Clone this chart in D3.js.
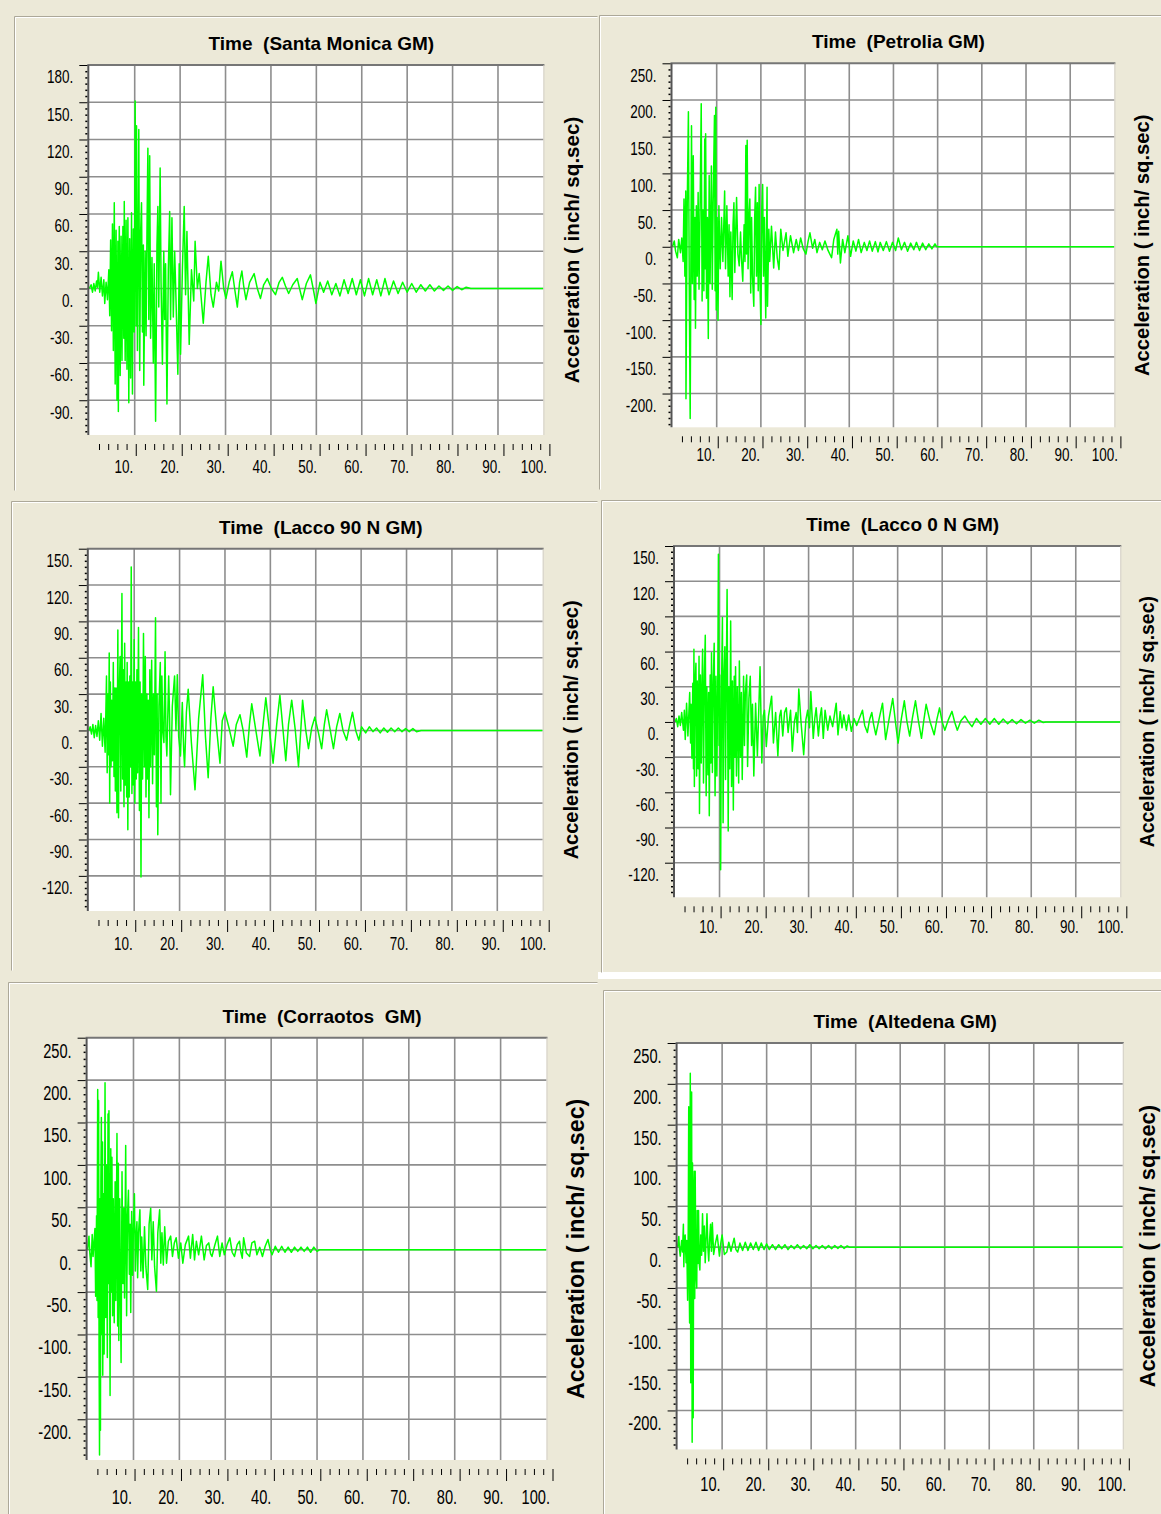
<!DOCTYPE html>
<html>
<head>
<meta charset="utf-8">
<script src="https://cdn.jsdelivr.net/npm/d3@7"></script>
<style>
body { margin: 0; background: #ece9d8; }
svg { display: block; }
text { font-family: "Liberation Sans", Arial, sans-serif; }
</style>
</head>
<body>
<script>

//=========================== data ============================================

// [time (sec), acceleration (inch/sq.sec)]
var santaMonicaAccel = [[0,0],[0.4,3],[0.7,-3],[1.0,4],[1.3,-2],[1.6,6],[1.8,1],[2.0,13],[2.3,-3],[2.6,9],[2.9,-6],[3.2,7],[3.4,-12],[3.7,5],[4.0,-9],[4.3,15],[4.5,-22],[4.7,39],[4.9,-34],[5.1,52],[5.3,-50],[5.5,69],[5.7,-77],[5.9,47],[6.1,-90],[6.3,38],[6.4,-99],[6.6,50],[6.8,-70],[7.0,42],[7.2,-58],[7.4,50],[7.6,-40],[7.7,70],[7.9,-58],[8.1,55],[8.3,-65],[8.5,57],[8.7,-92],[8.9,40],[9.1,-72],[9.3,61],[9.5,-85],[9.7,48],[9.9,-35],[10.1,151],[10.3,-30],[10.4,131],[10.6,-50],[10.8,55],[10.9,128],[11.1,-66],[11.3,45],[11.5,69],[11.7,-35],[11.9,35],[12.0,-78],[12.3,30],[12.5,-38],[12.7,45],[12.9,113],[13.1,-25],[13.3,107],[13.5,-40],[13.8,25],[14.1,-60],[14.3,20],[14.6,-107],[14.9,35],[15.1,66],[15.3,-15],[15.6,97],[15.8,5],[16.1,-61],[16.4,30],[16.6,-25],[16.8,20],[17.1,-93],[17.4,15],[17.7,62],[17.9,-25],[18.2,57],[18.5,-23],[18.8,30],[19.1,-10],[19.5,-69],[19.8,20],[20.1,-53],[20.5,15],[20.9,66],[21.2,-5],[21.5,46],[22.0,-45],[22.5,15],[23.0,-10],[23.3,38],[23.8,0],[24.2,12],[25.1,-28],[25.7,5],[26.2,26],[26.8,-5],[27.3,-15],[28.0,5],[28.5,-2],[29.0,22],[29.6,0],[30.1,-8],[30.8,5],[31.5,13.5],[32.0,0],[32.6,-15],[33.1,5],[33.6,14],[34.0,2],[34.5,-9],[35.3,5],[36.3,12],[37.0,0],[37.7,-8],[38.4,3],[39.2,8],[40.1,0],[41.0,-5],[41.8,5],[42.5,9],[43.2,2],[43.9,-4],[44.8,3],[45.8,8],[46.3,0],[46.9,-9],[47.8,4],[48.7,11],[49.3,0],[49.9,-12],[50.8,5],[51.6,-3],[52.5,6],[53.4,-5],[54.3,4],[55.2,-6],[56.1,7],[57.0,-4],[57.9,8],[58.8,-5],[59.7,7],[60.6,-6],[61.5,8],[62.4,-5],[63.3,7],[64.2,-6],[65.1,8],[66.0,-5],[67.0,6],[68.0,-4],[69.0,5],[70.0,-3],[71.0,4],[72.0,-3],[73.0,3],[74.0,-2],[75.0,3],[76.0,-2],[77.0,2],[78.0,-1.5],[79.0,2],[80.0,-1.5],[81.0,1.5],[82.0,-1],[83.0,1],[84.0,0],[100,0]];

var petroliaAccel = [[0,0],[0.4,8],[0.7,-6],[1.1,-15],[1.4,10],[1.8,-8],[2.1,12],[2.4,-20],[2.6,65],[2.8,-40],[3.0,76],[3.05,-207],[3.3,40],[3.6,184],[3.8,-60],[4.0,-234],[4.2,30],[4.3,165],[4.5,-50],[4.7,124],[4.9,-72],[5.1,40],[5.2,-111],[5.4,56],[5.6,-40],[5.8,74],[6.0,-58],[6.2,30],[6.5,195],[6.7,-74],[6.9,50],[7.1,-60],[7.3,147],[7.4,-30],[7.5,154],[7.7,-70],[7.9,40],[8.1,-125],[8.3,97],[8.5,-50],[8.8,110],[9.0,-58],[9.2,60],[9.5,179],[9.65,-60],[9.8,190],[9.9,-86],[10.1,40],[10.3,-100],[10.5,56],[10.8,-30],[11.1,40],[11.4,-20],[11.8,76],[12.0,-30],[12.3,56],[12.6,-40],[12.8,30],[13.0,-68],[13.2,20],[13.5,-72],[13.7,30],[13.9,60],[14.1,-35],[14.3,20],[14.5,67],[14.8,-10],[15.1,-26],[15.4,20],[15.6,-15],[15.9,-47],[16.2,30],[16.4,-20],[16.6,138],[16.75,-10],[16.9,145],[17.1,-30],[17.3,40],[17.5,65],[17.7,-63],[17.9,40],[18.1,-40],[18.4,-81],[18.6,40],[18.8,81],[19.0,-40],[19.2,60],[19.4,-60],[19.6,85],[19.8,-50],[20.0,-106],[20.2,50],[20.4,85],[20.6,-40],[20.8,40],[21.1,-97],[21.3,30],[21.4,81],[21.5,-81],[21.8,24],[22.0,-20],[22.4,28],[22.9,-29],[23.3,20],[23.7,-15],[24.1,-31],[24.5,24],[25.0,-5],[25.7,19],[26.1,-13],[26.7,15],[27.4,-8],[28.0,10],[28.5,-5],[29.0,12],[29.6,-3],[30.2,-10],[30.7,8],[31.1,19],[31.7,-2],[32.2,10],[32.7,-8],[33.3,6],[33.9,-4],[34.5,8],[35.2,-5],[36.0,-15],[36.5,10],[37.2,24],[37.4,-10],[37.6,21],[38.0,-22],[38.5,10],[39.0,-8],[39.7,15],[40.3,-13],[40.9,8],[41.5,-6],[42.1,10],[42.7,-8],[43.4,6],[44.0,-5],[44.6,8],[45.2,-6],[45.9,7],[46.5,-7],[47.0,6],[47.7,-5],[48.4,7],[49.1,-6],[49.8,6],[50.5,-5],[51.1,12],[51.8,-4],[52.5,6],[53.2,-6],[53.9,5],[54.6,-4],[55.2,6],[55.9,-5],[56.6,5],[57.3,-4],[58.0,4],[58.7,-3],[59.4,4],[59.8,0],[100,0]];

var lacco90Accel = [[0,0],[0.3,3],[0.6,-3],[0.9,5],[1.2,-6],[1.5,4],[1.8,-5],[2.1,8],[2.4,-8],[2.7,14],[3.0,-13],[3.3,10],[3.6,-18],[3.9,45],[4.05,-35],[4.2,30],[4.35,-20],[4.5,64],[4.6,-60],[4.75,40],[4.9,-30],[5.05,25],[5.2,-25],[5.4,56],[5.55,-38],[5.7,35],[5.85,-50],[6.0,35],[6.2,-68],[6.4,83],[6.55,-72],[6.7,30],[6.9,61],[7.05,-50],[7.3,113],[7.45,-40],[7.6,50],[7.75,-63],[7.9,72],[8.05,-45],[8.2,40],[8.35,-55],[8.45,56],[8.6,-82],[8.75,40],[8.9,-55],[9.05,45],[9.2,-30],[9.35,135],[9.5,-52],[9.65,40],[9.8,-45],[10.0,75],[10.15,-60],[10.3,40],[10.45,-40],[10.6,50],[10.75,-35],[10.95,85],[11.15,-66],[11.3,40],[11.5,-121],[11.65,30],[11.85,-40],[12.05,80],[12.25,-30],[12.45,61],[12.6,-55],[12.8,30],[12.95,-40],[13.1,25],[13.25,-72],[13.45,50],[13.6,-30],[13.85,58],[14.05,-44],[14.25,30],[14.45,-20],[14.7,93],[14.9,-63],[15.05,30],[15.2,-86],[15.45,20],[15.75,56],[15.9,-60],[16.1,45],[16.3,0],[16.55,-10],[16.8,65],[17.0,-5],[17.2,-21],[17.6,45],[17.8,10],[18.0,-53],[18.4,20],[18.9,45],[19.2,0],[19.5,46],[19.8,-5],[20.2,-21],[20.6,23],[20.9,-16],[21.1,-30],[21.5,15],[21.9,34],[22.6,-10],[23.4,-49],[24.2,10],[25.1,46],[25.7,-5],[26.3,-39],[26.9,10],[27.4,36],[28.2,0],[28.9,-27],[29.4,8],[30.0,15],[30.9,2],[31.8,-13],[32.5,5],[33.3,13],[34.0,0],[34.8,-22],[35.4,5],[35.9,22],[36.8,0],[37.7,-21],[38.4,5],[39.0,27],[39.8,0],[40.6,-27],[41.4,5],[42.1,29],[42.8,0],[43.4,-25],[44.0,5],[44.7,25],[45.5,0],[46.2,-30],[46.7,0],[47.1,25],[47.8,0],[48.4,-15],[49.1,2],[49.8,11],[50.6,-2],[51.3,-15],[51.9,5],[52.4,17],[53.2,0],[53.9,-15],[54.6,3],[55.3,14],[56.0,0],[56.8,-8],[57.5,5],[58.1,15],[58.8,0],[59.5,-8],[60.1,3],[61.0,-2],[61.8,3],[62.6,-1],[63.4,2],[64.2,-2],[65.0,2],[65.8,-1.5],[66.6,2],[67.4,-1],[68.2,2],[69.0,-1],[69.8,1.5],[70.6,-1],[71.4,1.5],[72.2,-1],[73.2,0],[100,0]];

var lacco0Accel = [[0,0],[0.3,3],[0.6,-4],[0.9,5],[1.2,-3],[1.5,8],[1.9,-7],[2.1,10],[2.3,-15],[2.6,16],[2.9,-12],[3.3,25],[3.5,-18],[3.6,15],[3.8,-31],[4.0,33],[4.15,-40],[4.25,62],[4.35,-55],[4.5,30],[4.7,50],[4.85,-46],[5.0,35],[5.2,-40],[5.4,56],[5.5,-78],[5.7,40],[5.9,-35],[6.05,30],[6.2,62],[6.4,-52],[6.6,40],[6.8,74],[7.0,-63],[7.15,30],[7.4,-45],[7.55,25],[7.7,-80],[7.9,40],[8.05,-35],[8.2,59],[8.4,-43],[8.6,35],[8.8,67],[9.0,-63],[9.2,39],[9.4,-46],[9.6,30],[9.75,143],[9.9,-20],[10.05,40],[10.25,-126],[10.45,30],[10.65,89],[10.8,-86],[11.0,40],[11.2,64],[11.35,-49],[11.5,30],[11.7,113],[11.95,-93],[12.1,30],[12.3,-40],[12.5,86],[12.7,-55],[12.9,35],[13.1,-75],[13.3,39],[13.45,-30],[13.6,47],[13.8,-46],[14.0,30],[14.3,-52],[14.45,52],[14.7,-30],[14.9,25],[15.1,-49],[15.4,39],[15.6,-20],[15.8,25],[16.1,40],[16.3,-38],[16.6,20],[16.9,39],[17.2,-20],[17.4,15],[17.7,-46],[18.1,16],[18.5,-29],[19.1,47],[19.5,-35],[19.8,5],[20.1,10],[20.5,-21],[21.0,5],[21.7,22],[22.1,-18],[22.6,8],[23.1,-29],[23.5,5],[23.8,10],[24.2,-12],[24.6,8],[25.0,12],[25.4,-9],[25.95,10],[26.35,-25],[26.8,0],[27.2,8],[27.5,-9],[27.8,28],[28.3,0],[28.9,-28],[29.4,2],[29.8,10],[30.2,-5],[30.5,26],[31.05,-14],[31.4,3],[31.7,12],[32.2,-12],[32.6,5],[32.9,12],[33.3,-14],[33.7,10],[34.3,-7],[34.8,5],[35.4,-4],[36.2,16],[36.6,-11],[37.1,9],[37.5,-5],[37.9,6],[38.5,-7],[39.0,6],[39.6,-8],[40.2,3],[40.8,-3],[41.5,4],[42.1,10],[42.6,-3],[43.2,-9],[43.7,2],[44.2,8],[44.6,-2],[45.1,-11],[45.8,2],[46.6,16],[47.3,-15],[48.1,3],[48.9,20],[49.5,0],[50.1,-18],[50.8,2],[51.5,18],[52.1,0],[52.7,-12],[53.3,3],[54.0,18],[54.7,0],[55.35,-14],[55.9,2],[56.4,15],[57.3,0],[58.2,-11],[58.8,2],[59.4,12],[60.0,0],[60.6,-7],[61.4,2],[62.2,9],[62.8,0],[63.4,-7],[64.2,1],[65.1,5],[65.9,0],[66.7,-4],[67.7,3],[68.7,-2],[69.7,3],[70.7,-2],[71.7,3],[72.7,-2],[73.7,2.5],[74.7,-1.5],[75.7,2],[76.7,-1.5],[77.7,2],[78.7,-1],[79.7,1.5],[80.7,-1],[81.7,1.5],[82.7,-0.5],[83.3,0],[100,0]];

var corraotosAccel = [[0,0],[0.3,16],[0.5,-5],[0.75,-20],[1.0,18],[1.2,-8],[1.4,10],[1.6,25],[1.75,-55],[1.95,40],[2.05,-60],[2.2,189],[2.3,-80],[2.4,176],[2.5,-120],[2.6,-242],[2.7,60],[2.8,-213],[2.9,80],[3.0,156],[3.1,-100],[3.25,127],[3.3,-148],[3.45,66],[3.6,-123],[3.8,197],[3.95,-80],[4.1,100],[4.3,-127],[4.45,160],[4.55,-40],[4.65,164],[4.8,-37],[4.9,-172],[5.05,119],[5.2,-50],[5.3,109],[5.45,-78],[5.6,60],[5.8,-86],[6.0,80],[6.15,-60],[6.4,137],[6.55,-90],[6.7,102],[6.8,-107],[7.0,60],[7.15,-50],[7.3,-133],[7.5,92],[7.7,-40],[7.9,49],[8.05,-57],[8.3,123],[8.5,-78],[8.7,40],[8.9,70],[9.1,-29],[9.25,30],[9.4,-74],[9.6,45],[9.8,-30],[10.0,30],[10.2,66],[10.4,-25],[10.6,20],[10.75,33],[10.9,-33],[11.1,20],[11.4,47],[11.6,-25],[11.8,15],[12.1,-33],[12.4,27],[12.7,-20],[13.1,-47],[13.4,30],[13.75,49],[14.0,-12],[14.3,33],[14.6,-20],[15.0,-49],[15.3,20],[15.7,47],[15.95,-16],[16.2,20],[16.5,-18],[16.8,27],[17.2,-16],[17.6,10],[18.1,16],[18.5,-8],[18.9,8],[19.3,14],[19.8,-10],[20.3,8],[20.75,-16],[21.3,6],[22.0,16],[22.4,-10],[22.9,18],[23.3,-12],[23.7,10],[24.2,-6],[24.8,16],[25.4,-12],[25.9,5],[26.4,8],[26.8,-5],[27.1,-8],[27.7,5],[28.3,16],[28.8,-8],[29.3,8],[29.8,-6],[30.4,6],[31.0,14],[31.5,-3],[32.0,-8],[32.6,6],[33.1,10],[33.4,-3],[33.7,-10],[34.0,14],[34.6,-4],[35.3,-8],[35.8,8],[36.4,10],[36.9,-6],[37.5,3],[38.1,-8],[38.7,4],[39.3,12],[39.8,0],[40.2,-6],[40.9,4],[41.6,-3],[42.3,4],[43.0,-3],[43.7,3],[44.4,-3],[45.1,3],[45.8,-2],[46.5,3],[47.2,-2],[47.9,3],[48.6,-3],[49.3,3],[50.0,-2],[50.6,0],[100,0]];

var altedenaAccel = [[0,0],[0.27,13],[0.45,-4],[0.6,-11],[0.9,8],[1.1,-6],[1.3,28],[1.4,-24],[1.55,10],[1.7,15],[1.9,-19],[2.05,8],[2.25,-65],[2.4,30],[2.5,172],[2.6,-40],[2.7,-93],[2.85,213],[2.95,-166],[3.05,60],[3.15,190],[3.27,-239],[3.35,103],[3.42,20],[3.5,-209],[3.62,60],[3.75,93],[3.85,-63],[3.95,93],[4.1,-30],[4.3,-50],[4.4,45],[4.55,-20],[4.7,45],[4.85,-19],[5.0,-28],[5.2,15],[5.4,-10],[5.6,41],[5.8,-5],[6.0,26],[6.2,-19],[6.4,10],[6.6,41],[6.8,0],[7.0,-17],[7.2,10],[7.4,28],[7.6,-5],[7.8,30],[8.1,-9],[8.5,5],[8.9,15],[9.4,-11],[9.7,5],[10.0,15],[10.5,-9],[11.05,-6],[11.5,6],[12.0,-5],[12.7,11],[13.1,-3],[13.5,-6],[14.0,5],[14.6,-4],[15.2,6],[15.8,-4],[16.4,5],[17.0,-3],[17.6,6],[18.2,-4],[18.8,5],[19.4,-3],[20.0,4],[20.6,-3],[21.3,3],[22.0,-3],[22.7,3],[23.4,-2],[24.1,3],[24.8,-3],[25.5,2],[26.2,-2],[26.9,3],[27.6,-2],[28.3,2],[29.0,-2],[29.7,3],[30.4,-2],[31.1,2],[31.8,-2],[32.5,2],[33.2,-2],[33.9,2],[34.6,-2],[35.3,2],[36.0,-1.5],[36.7,2],[37.4,-1.5],[38.1,1.5],[38.6,0],[100,0]];

// y range of each plot (bottom, top) and its labelled ticks
var santaMonicaRange = [-118, 180];
var petroliaRange    = [-246, 250];
var lacco90Range     = [-149, 150];
var lacco0Range      = [-149.5, 150];
var corraotosRange   = [-248, 250];
var altedenaRange    = [-247.7, 250];

var santaMonicaTicks = [180, 150, 120, 90, 60, 30, 0, -30, -60, -90];
var petroliaTicks    = [250, 200, 150, 100, 50, 0, -50, -100, -150, -200];
var lacco90Ticks     = [150, 120, 90, 60, 30, 0, -30, -60, -90, -120];
var lacco0Ticks      = [150, 120, 90, 60, 30, 0, -30, -60, -90, -120];
var corraotosTicks   = [250, 200, 150, 100, 50, 0, -50, -100, -150, -200];
var altedenaTicks    = [250, 200, 150, 100, 50, 0, -50, -100, -150, -200];

var xTickLabels = [10, 20, 30, 40, 50, 60, 70, 80, 90, 100];

var titles = ["Time  (Santa Monica GM)", "Time  (Petrolia GM)", "Time  (Lacco 90 N GM)",
              "Time  (Lacco 0 N GM)", "Time  (Corraotos  GM)", "Time  (Altedena GM)"];
var yAxisTitle = "Acceleration ( inch/ sq.sec)";

//=========================== layout ==========================================

// frame corner, plot box (x0 = time 0, x1 = time 100), font sizes
var layout = [
    {fx:14,  fy:16,  fx2:597,  fy2:490,  x0:89.3,  x1:543.4,  top:65,    bottom:435,    tickFont:18,   labFont:20.6, labDx:28, xLab:38},
    {fx:599, fy:15,  fx2:1161, fy2:489,  x0:672.5, x1:1114.4, top:63.3,  bottom:427.3,  tickFont:18,   labFont:20.2, labDx:28, xLab:34},
    {fx:11,  fy:501, fx2:597,  fy2:970,  x0:88.8,  x1:542.7,  top:548.7, bottom:911,    tickFont:18,   labFont:20,   labDx:28, xLab:39},
    {fx:601, fy:500, fx2:1161, fy2:972,  x0:675,   x1:1120.3, top:546,   bottom:897.3,  tickFont:18,   labFont:19.4, labDx:27, xLab:36},
    {fx:8,   fy:982, fx2:597,  fy2:1514, x0:87.6,  x1:546.5,  top:1037.7,bottom:1460,   tickFont:19.5, labFont:23.2, labDx:29, xLab:44},
    {fx:603, fy:990, fx2:1161, fy2:1514, x0:677.6, x1:1122.8, top:1043,  bottom:1449.4, tickFont:19.5, labFont:21.8, labDx:25, xLab:42}
];

var accels = [santaMonicaAccel, petroliaAccel, lacco90Accel, lacco0Accel, corraotosAccel, altedenaAccel];
var ranges = [santaMonicaRange, petroliaRange, lacco90Range, lacco0Range, corraotosRange, altedenaRange];
var ticks  = [santaMonicaTicks, petroliaTicks, lacco90Ticks, lacco0Ticks, corraotosTicks, altedenaTicks];

var SQUEEZE = 0.75;   // numbers are drawn in a narrow face

//=========================== drawing =========================================

var svg = d3.select("body").append("svg")
    .attr("width", 1161)
    .attr("height", 1514);

svg.append("rect")
    .attr("width", 1161)
    .attr("height", 1514)
    .attr("fill", "#ece9d8");

// white gap between the two right hand panels
svg.append("rect")
    .attr("x", 598).attr("y", 972)
    .attr("width", 563).attr("height", 7)
    .attr("fill", "#ffffff");

function etched(g, x1, y1, x2, y2) {
    var dx = (x1 == x2) ? 1 : 0;
    var dy = (y1 == y2) ? 1 : 0;
    g.append("line")
        .attr("x1", x1 + 0.5).attr("y1", y1 + 0.5).attr("x2", x2 + 0.5).attr("y2", y2 + 0.5)
        .attr("stroke", "#aca899");
    g.append("line")
        .attr("x1", x1 + 0.5 + dx + dy).attr("y1", y1 + 0.5 + dy + dx).attr("x2", x2 + 0.5 + dx).attr("y2", y2 + 0.5 + dy)
        .attr("stroke", "#ffffff");
}

function drawPanel(i) {
    var p = layout[i];
    var g = svg.append("g");

    etched(g, p.fx, p.fy, p.fx2, p.fy);
    etched(g, p.fx, p.fy, p.fx, p.fy2);

    var x = d3.scaleLinear().domain([0, 100]).range([p.x0, p.x1]);
    var y = d3.scaleLinear().domain(ranges[i]).range([p.bottom, p.top]);
    var left = p.x0 - 2;

    // plot area
    g.append("rect")
        .attr("x", left).attr("y", p.top)
        .attr("width", p.x1 - left).attr("height", p.bottom - p.top)
        .attr("fill", "#ffffff");

    // grid
    g.selectAll(".vgrid")
        .data(xTickLabels.filter(function(d) { return d < 100; }))
        .enter().append("line")
        .attr("x1", function(d) { return x(d); })
        .attr("x2", function(d) { return x(d); })
        .attr("y1", p.top).attr("y2", p.bottom)
        .attr("stroke", "#8e8e8e").attr("stroke-width", 1.6);
    g.selectAll(".hgrid")
        .data(ticks[i].slice(1))
        .enter().append("line")
        .attr("x1", left).attr("x2", p.x1)
        .attr("y1", function(d) { return y(d); })
        .attr("y2", function(d) { return y(d); })
        .attr("stroke", "#8e8e8e").attr("stroke-width", 1.6);

    // trace
    var clipId = "clip" + i;
    g.append("clipPath").attr("id", clipId)
        .append("rect")
        .attr("x", left).attr("y", p.top)
        .attr("width", p.x1 - left).attr("height", p.bottom - p.top);
    var line = d3.line()
        .x(function(d) { return x(d[0]); })
        .y(function(d) { return y(d[1]); });
    g.append("path")
        .datum(accels[i])
        .attr("d", line)
        .attr("clip-path", "url(#" + clipId + ")")
        .attr("fill", "none")
        .attr("stroke", "#00ff00")
        .attr("stroke-width", 1.5)
        .attr("stroke-linejoin", "round");

    // sunken border of the plot
    g.append("line")
        .attr("x1", left).attr("x2", p.x1 + 1)
        .attr("y1", p.top).attr("y2", p.top)
        .attr("stroke", "#767676").attr("stroke-width", 2);
    g.append("line")
        .attr("x1", left + 1).attr("x2", left + 1)
        .attr("y1", p.top).attr("y2", p.bottom)
        .attr("stroke", "#555555").attr("stroke-width", 2);
    g.append("line")
        .attr("x1", p.x1 + 0.5).attr("x2", p.x1 + 0.5)
        .attr("y1", p.top).attr("y2", p.bottom)
        .attr("stroke", "#d4d0c8");

    // y axis: labelled ticks and dotted minor ticks
    var step = ticks[i][0] - ticks[i][1];
    var yMinor = d3.range(0, 200)
        .map(function(k) { return ranges[i][1] - k * step / 6; })
        .filter(function(v) { return v >= ranges[i][0] && Math.abs(v / step - Math.round(v / step)) > 1e-6; });

    var yAxis = g.append("g")
        .attr("transform", "translate(" + left + ",0)")
        .style("color", "#000")
        .call(d3.axisLeft(y).tickValues(ticks[i]).tickSize(8).tickFormat(function(d) { return d + "."; }));
    yAxis.select(".domain").remove();
    yAxis.selectAll("text")
        .attr("x", -14 / SQUEEZE)
        .attr("y", p.tickFont)
        .attr("dy", 0)
        .attr("transform", "scale(" + SQUEEZE + ",1)")
        .attr("font-size", p.tickFont)
        .attr("font-family", "Liberation Sans, Arial, sans-serif")
        .attr("fill", "#000");

    var yDots = g.append("g")
        .attr("transform", "translate(" + left + ",0)")
        .style("color", "#000")
        .call(d3.axisLeft(y).tickValues(yMinor).tickSize(2).tickFormat(""));
    yDots.select(".domain").remove();
    yDots.selectAll("line").attr("stroke-width", 1.5);

    // x axis, drawn below the plot on its own slightly wider scale
    var xt = d3.scaleLinear().domain([0, 100]).range([p.x0 + 0.5, p.x1 + 6]);
    var xMinor = d3.range(2, 100, 2).filter(function(v) { return v % 10 != 0; });

    var xAxis = g.append("g")
        .attr("transform", "translate(0," + (p.bottom + 9) + ")")
        .style("color", "#000")
        .call(d3.axisBottom(xt).tickValues(xTickLabels).tickSize(12).tickFormat(function(d) { return d + "."; }));
    xAxis.select(".domain").remove();
    xAxis.selectAll("text")
        .attr("text-anchor", "end")
        .attr("x", -3 / SQUEEZE)
        .attr("y", p.xLab - 9)
        .attr("dy", 0)
        .attr("transform", "scale(" + SQUEEZE + ",1)")
        .attr("font-size", p.tickFont)
        .attr("font-family", "Liberation Sans, Arial, sans-serif")
        .attr("fill", "#000");

    var xMinorAxis = g.append("g")
        .attr("transform", "translate(0," + (p.bottom + 9) + ")")
        .style("color", "#000")
        .call(d3.axisBottom(xt).tickValues(xMinor).tickSize(6).tickFormat(""));
    xMinorAxis.select(".domain").remove();

    // titles
    g.append("text")
        .attr("x", (left + p.x1) / 2 + 6)
        .attr("y", p.top - 15)
        .attr("text-anchor", "middle")
        .style("white-space", "pre")
        .attr("font-size", 19)
        .attr("font-weight", "bold")
        .attr("fill", "#000")
        .text(titles[i]);

    g.append("text")
        .attr("transform", "translate(" + (p.x1 + p.labDx) + "," + ((p.top + p.bottom) / 2) + ") rotate(-90)")
        .attr("text-anchor", "middle")
        .attr("dominant-baseline", "central")
        .style("white-space", "pre")
        .attr("font-size", p.labFont)
        .attr("font-weight", "bold")
        .attr("fill", "#000")
        .text(yAxisTitle);
}

for (var i = 0; i < layout.length; i++) {
    drawPanel(i);
}

</script>
</body>
</html>
